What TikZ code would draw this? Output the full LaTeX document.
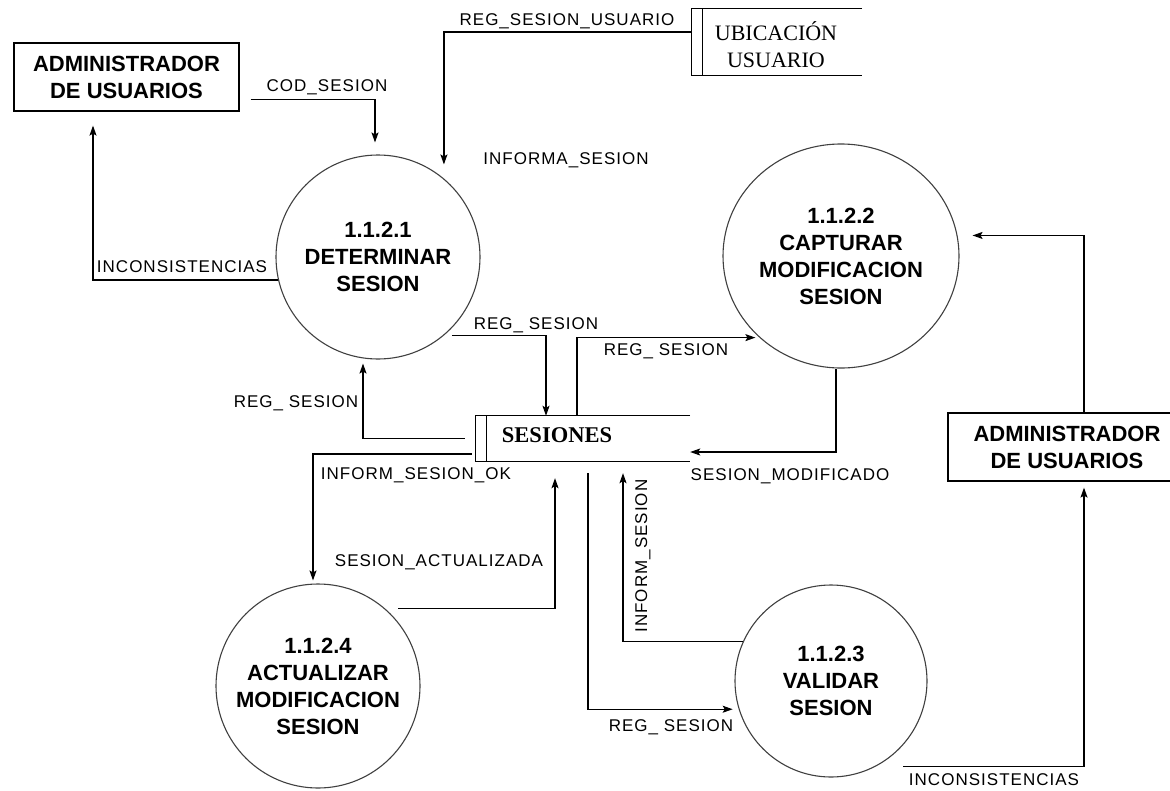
\documentclass[tikz,border=0pt]{standalone}
\usepackage{fontspec}
\usetikzlibrary{arrows.meta,shapes.geometric,calc}
\newfontfamily\lblfont[LetterSpace=6]{Liberation Sans}
\newfontfamily\boldsans{Liberation Sans}
\newfontfamily\storefont{Liberation Serif}

\begin{document}
\begin{tikzpicture}[x=1pt,y=-1pt,
  flow/.style={draw=black, line width=1.2pt, -{Stealth[length=10pt,width=7pt,inset=2pt]}},
  proc/.style={circle, draw=black!75, line width=1.1pt, inner sep=0pt, align=center,
    font=\boldsans\bfseries\fontsize{22}{27}\selectfont},
  ext/.style={rectangle, draw=black, line width=1.2pt, inner sep=0pt, align=center,
    minimum width=225, minimum height=68,
    font=\boldsans\bfseries\fontsize{22}{27}\selectfont},
  storebox/.style={rectangle, inner sep=0pt},
  storeline/.style={draw=black, line width=1.2pt},
  lbl/.style={inner sep=0pt, font=\lblfont\fontsize{17}{20}\selectfont,
    text height=12.2pt, text depth=0pt},
]
\useasboundingbox (0,0) rectangle (1170,790);
\fill[white] (0,0) rectangle (1170,790);
\clip (0,0) rectangle (1170,790);

% external entities
\node[ext] (a1) at (126.5,77) {ADMINISTRADOR\\DE USUARIOS};
\node[ext, minimum width=238] (a2) at (1067,447) {ADMINISTRADOR\\DE USUARIOS};

% processes
\node[proc, minimum size=204] (c1) at (378,257) {1.1.2.1\\DETERMINAR\\SESION};
\node[proc, ellipse, minimum width=236, minimum height=224] (c2) at (841,256)
  {1.1.2.2\\CAPTURAR\\MODIFICACION\\SESION};
\node[proc, minimum size=192] (c3) at (831,681) {1.1.2.3\\VALIDAR\\SESION};
\node[proc, minimum size=204] (c4) at (318,686)
  {1.1.2.4\\ACTUALIZAR\\MODIFICACION\\SESION};

% data stores
\node[storebox, minimum width=170, minimum height=66] (ubi) at (777,42) {};
\draw[storeline] (ubi.north east) -- (ubi.north west) -- (ubi.south west) -- (ubi.south east);
\draw[storeline] ([xshift=11pt]ubi.north west) -- ([xshift=11pt]ubi.south west);
\node[align=center, inner sep=0pt, font=\storefont\fontsize{22}{27}\selectfont]
  (ubitxt) at (776,45) {UBICACIÓN\\USUARIO};

\node[storebox, minimum width=214, minimum height=45] (ses) at (583,438.5) {};
\draw[storeline] (ses.north east) -- (ses.north west) -- (ses.south west) -- (ses.south east);
\draw[storeline] ([xshift=11pt]ses.north west) -- ([xshift=11pt]ses.south west);
\node[inner sep=0pt, text height=14.9pt, text depth=0pt,
  font=\storefont\bfseries\fontsize{22.5}{27}\selectfont] (sestxt) at (557,435.5) {SESIONES};

% data flows
\draw[flow, shorten >=12pt] ($(a1.south east)+(11,-12)$) -| ([xshift=-3pt]c1.north);
\draw[flow, shorten >=14pt] ($(ubi.west)+(0,-10)$) -| (c1.50);
\draw[flow, shorten >=14pt] (c1.193) -| ([xshift=-33.5pt]a1.south);
\draw[flow] ([xshift=8pt]c1.-50) -| ([xshift=-37pt]ses.north);
\draw[flow, shorten >=4pt] ([xshift=-6pt]ses.north) |- (c2.225);
\draw[flow] ([xshift=-5pt]c2.south) |- ([yshift=-13.5pt]ses.east);
\draw[flow, shorten <=11pt, shorten >=4pt] (ses.west) -| ([xshift=-15pt]c1.south);
\draw[flow, shorten <=4pt, shorten >=3pt] ([yshift=-15.5pt]ses.west) -| ([xshift=-5pt]c4.north);
\draw[flow] ([xshift=13pt]c4.49) -| ([xshift=-28pt,yshift=-17pt]ses.south);
\draw[flow, shorten >=6pt] ([xshift=5pt,yshift=-12pt]ses.south) |- (c3.197);
\draw[flow] (c3.156) -| ([xshift=40pt,yshift=-12pt]ses.south);
\draw[flow] ([xshift=27pt]c3.-62) -| ([xshift=17pt,yshift=-6pt]a2.south);
\draw[flow, shorten >=15pt] ([xshift=17pt]a2.north) |- (c2.10);

% flow labels
\node[lbl] (l1) at (327,85) {COD\_SESION};
\node[lbl] (l2) at (567,19) {REG\_SESION\_USUARIO};
\node[lbl] (l3) at (566,158) {INFORMA\_SESION};
\node[lbl] (l4) at (182,266) {INCONSISTENCIAS};
\node[lbl] (l5) at (536,323) {REG\_ SESION};
\node[lbl] (l6) at (666,349) {REG\_ SESION};
\node[lbl] (l7) at (790,474) {SESION\_MODIFICADO};
\node[lbl] (l8) at (296,401) {REG\_ SESION};
\node[lbl] (l9) at (416,473) {INFORM\_SESION\_OK};
\node[lbl] (l10) at (439,560) {SESION\_ACTUALIZADA};
\node[lbl, rotate=90] (l11) at (641,556) {INFORM\_SESION};
\node[lbl] (l12) at (671,725) {REG\_ SESION};
\node[lbl] (l13) at (994,779) {INCONSISTENCIAS};
\end{tikzpicture}
\end{document}
